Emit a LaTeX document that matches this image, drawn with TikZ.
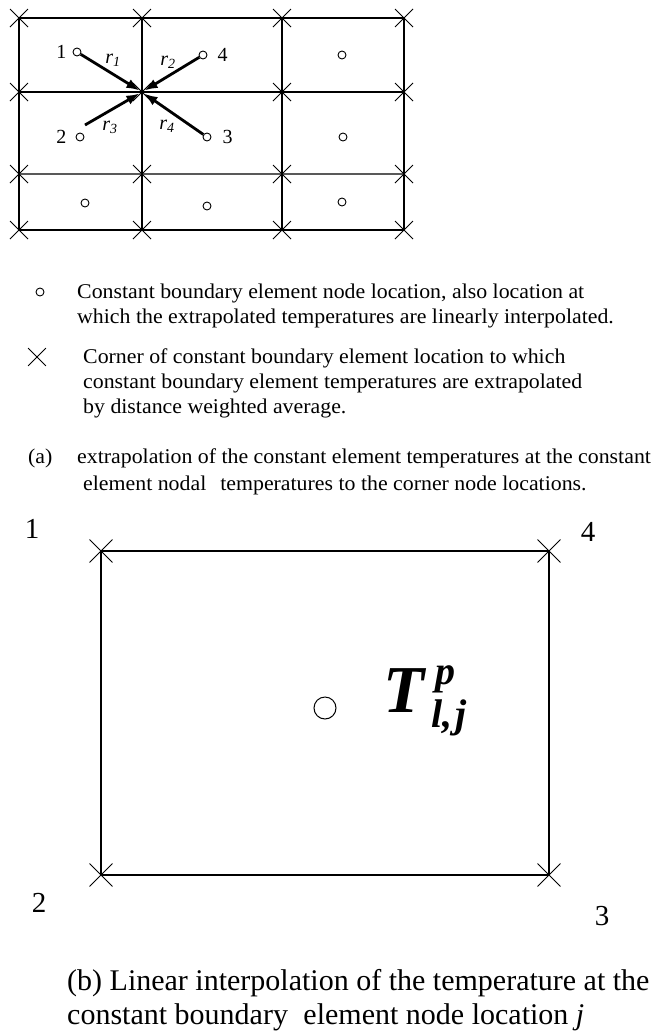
\documentclass[tikz,border=0pt]{standalone}
\usepackage{amsmath}
\usepackage{fontspec}
\setmainfont{Liberation Serif}
\newfontfamily\legendfont[FakeStretch=1.04]{Liberation Serif}
\usepackage{tikz}
\usetikzlibrary{arrows.meta,positioning,shapes.misc,calc}
\tikzset{
  mesh/corner/.style={draw, cross out, inner sep=0pt, minimum size=17pt, line width=1pt},
  mesh/bigcorner/.style={mesh/corner, minimum size=22pt, line width=0.9pt},
  mesh/node/.style={draw, circle, inner sep=0pt, minimum size=8pt, line width=0.9pt},
  mesh/bignode/.style={mesh/node, minimum size=22pt, line width=1pt},
  mesh/edge/.style={line width=2pt},
  mesh/thinedge/.style={line width=1.2pt, black!65},
  mesh/frame/.style={line width=1.3pt},
  mesh/ray/.style={line width=2.8pt, -{Latex[length=13pt,width=10pt]}, shorten >=3pt},
  mesh/num/.style={font=\fontsize{20}{20}\selectfont, inner sep=1pt},
  mesh/rlab/.style={font=\fontsize{20}{20}\selectfont\itshape, inner sep=0pt},
  mesh/legend/.style={font=\legendfont\fontsize{21}{25}\selectfont, align=left, anchor=base west, inner sep=0pt},
  mesh/bignum/.style={font=\fontsize{29}{29}\selectfont, inner sep=0pt, anchor=base},
  mesh/caption/.style={font=\fontsize{30}{34}\selectfont, align=left, anchor=base west, inner sep=0pt},
  mesh/sym/.style={font=\fontsize{67}{67}\selectfont\bfseries\itshape, inner sep=0pt, anchor=base west},
  mesh/script/.style={font=\fontsize{40}{40}\selectfont\bfseries\itshape, inner sep=0pt, anchor=base west}
}

\begin{document}
\begin{tikzpicture}[x=1pt, y=-1pt]
  \useasboundingbox (0,0) rectangle (653,1034);

  % (a) mesh of constant elements
  \foreach \x [count=\i] in {19,142,282,404}
    \foreach \y [count=\j] in {18,92,174,230}
      \coordinate (g-\i-\j) at (\x,\y);
  \foreach \j in {1,2,4}
    \draw[mesh/edge] (g-1-\j) -- (g-4-\j);
  \draw[mesh/thinedge] (g-1-3) -- (g-4-3);
  \foreach \i in {1,...,4}
    \draw[mesh/edge] (g-\i-1) -- (g-\i-4);
  \foreach \i in {1,...,4}
    \foreach \j in {1,...,4}
      \node[mesh/corner] (c-\i-\j) at (g-\i-\j) {};

  \node[mesh/node] (n1) at (77,52) {};
  \node[mesh/node] (n4) at (203,55) {};
  \node[mesh/node] (n2) at (80,137) {};
  \node[mesh/node] (n3) at (207,137) {};
  \node[mesh/node] (n5) at (342,55) {};
  \node[mesh/node] (n6) at (343,137) {};
  \node[mesh/node] (n7) at (85,203) {};
  \node[mesh/node] (n8) at (207,206) {};
  \node[mesh/node] (n9) at (342,202) {};

  \node[mesh/num, left=5pt of n1] (l1) {1};
  \node[mesh/num, right=9pt of n4] (l4) {4};
  \node[mesh/num, left=8pt of n2] (l2) {2};
  \node[mesh/num, right=10pt of n3] (l3) {3};

  \coordinate (s2) at (85,125);
  \draw[mesh/ray] (n1) -- (g-2-2);
  \draw[mesh/ray] (n4) -- (g-2-2);
  \draw[mesh/ray] (s2) -- (g-2-2);
  \draw[mesh/ray] (n3) -- (g-2-2);

  \node[mesh/rlab] (r1) at (113,60) {r\textsubscript{1}};
  \node[mesh/rlab] (r2) at (168,62) {r\textsubscript{2}};
  \node[mesh/rlab] (r3) at (110,127) {r\textsubscript{3}};
  \node[mesh/rlab] (r4) at (167,126) {r\textsubscript{4}};

  % legend
  \node[mesh/node] (keynode) at (40,292) {};
  \node[mesh/legend] (keytext1) at (77,323)
    {Constant boundary element node location, also location at\\
     which the extrapolated temperatures are linearly interpolated.};
  \node[mesh/corner, minimum size=17pt, line width=0.8pt] (keycorner) at (37,357) {};
  \node[mesh/legend] (keytext2) at (83,413)
    {Corner of constant boundary element location to which\\
     constant boundary element temperatures are extrapolated\\
     by distance weighted average.};
  \node[mesh/legend] (tagA) at (28,463) {(a)};
  \node[mesh/legend] (keytext3) at (77,490)
    {extrapolation of the constant element temperatures at the constant\\[2pt]
     \hspace{6pt}element nodal\hspace{14pt}temperatures to the corner node locations.};

  % (b) one element
  \coordinate (b1) at (101,551);
  \coordinate (b4) at (549,551);
  \coordinate (b3) at (549,875);
  \coordinate (b2) at (101,875);
  \draw[mesh/frame] (b1) -- (b4) -- (b3) -- (b2) -- cycle;
  \foreach \k in {1,...,4}
    \node[mesh/bigcorner] (k\k) at (b\k) {};

  \node[mesh/bignum] (m1) at (32,538) {1};
  \node[mesh/bignum] (m4) at (588,541) {4};
  \node[mesh/bignum] (m2) at (39,912) {2};
  \node[mesh/bignum] (m3) at (602,925) {3};

  \node[mesh/bignode] (nj) at (325,708) {};
  \node[mesh/sym] (tsym) at (383,712) {T};
  \node[mesh/script] (tsup) at (435,684) {p};
  \node[mesh/script] (tsub) at (431,727) {l,\hspace{3pt}j};

  \node[mesh/caption] (capB) at (67,1024)
    {(b) Linear interpolation of the temperature at the\\
     constant boundary\hspace{8pt} element node location \textit{j}};
\end{tikzpicture}
\end{document}
